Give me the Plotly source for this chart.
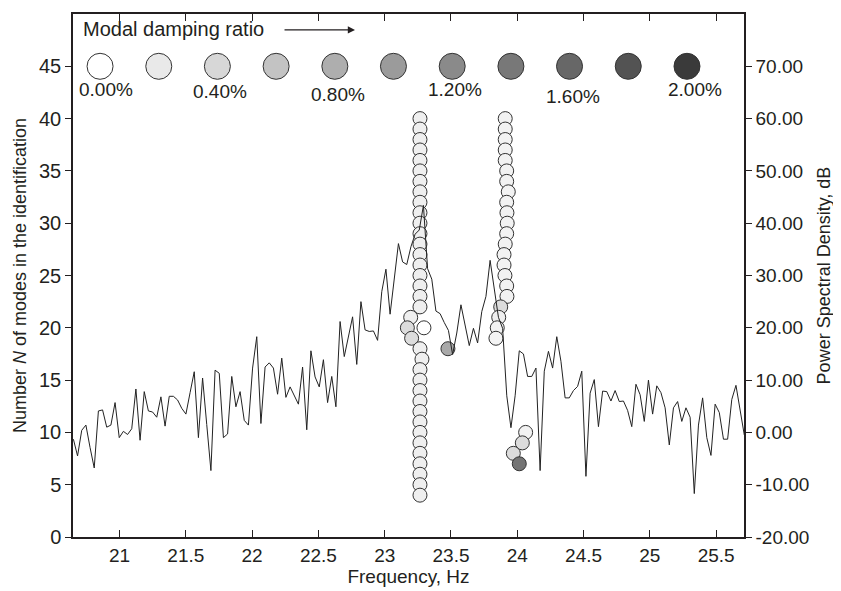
import plotly.graph_objects as go

# ---- PSD line (dB), uniform frequency grid ----
psd_f0 = 20.652
psd_df = 0.03143
psd_db = [-1.3, -4.5, 0.4, 1.4, -2.9, -6.8, 4.1, 4.3, 1.0, 1.4, 5.7, -1.0, 0.2, -0.4, 0.7, 8.3,
          -1.5, 7.8, 4.1, 3.9, 2.9, 6.8, 1.2, 6.9, 6.9, 6.2, 4.6, 3.5, 7.6, 11.6, -1.0, 10.4,
          1.5,
          -7.3, 11.9, 11.3, -1.0, -0.3, 10.7, 4.9, 7.8, 2.3, 1.4, 12.3, 18.3, 1.7, 12.5, 13.3, 12.3,
          7.3, 14.2, 6.7, 8.7, 7.0, 5.4, 12.5, 0.5, 15.6, 10.6, 8.7, 13.9, 5.7, 10.7, 4.9, 21.2,
          14.5, 18.0, 22.1, 13.0, 25.0, 19.6, 19.3, 19.4, 17.6, 26.9, 31.2, 22.6, 29.1, 36.1, 32.6,
          32.1, 35.5, 37.9, 38.7, 43.4, 31.3, 29.3, 23.2, 22.7, 21.0, 19.5, 14.9,
          19.0,
          24.4, 20.2, 16.6, 19.9, 17.1, 23.1, 26.0, 32.9, 27.0, 22.0, 19.9, 7.0, 0.9,
          7.0,
          15.6, 15.0, 10.7, 10.7, 12.3, -7.3, 11.7, 15.5, 12.3, 18.3, 13.6, 6.6, 6.6, 8.0, 8.8,
          11.7, -8.4, 7.5, 10.1, 1.1, 7.9, 7.8, 6.0, 8.0, 5.9, 6.0, 4.2, 1.1, 9.2, 7.2, 2.1, 10.0,
          3.5, 8.9, 7.6, 4.7, -2.4, 4.7, 5.9, 2.1, 4.7, 2.9, -11.7, 1.4, 6.6, -1.0, -4.4, 5.4, 3.8,
          -1.3, -1.3, 6.3, 9.0, 3.8, -0.5]
psd_freq = [psd_f0 + i * psd_df for i in range(len(psd_db))]

# ---- Stabilisation diagram: identified modes ----
col1_N = list(range(40, 21, -1)) + [21, 20, 20, 19, 18, 17] + list(range(16, 3, -1))
col1_f = [23.266] * 19 + [23.196, 23.171, 23.296, 23.203, 23.266, 23.281] + [23.266] * 13
col1_d = [0.15] * 19 + [0.15, 0.35, 0.0, 0.35, 0.15, 0.15] + [0.15] * 13

col2_N = list(range(40, 22, -1)) + [22, 21, 20, 19]
col2_f = [23.909, 23.909, 23.909, 23.909, 23.909, 23.920, 23.920, 23.932, 23.920, 23.922,
          23.924, 23.920, 23.909, 23.900, 23.900, 23.907, 23.920, 23.922,
          23.875, 23.860, 23.849, 23.839]
col2_d = [0.12] * 18 + [0.35, 0.15, 0.12, 0.1]

other_N = [18, 10, 9, 8, 7]
other_f = [23.477, 24.063, 24.038, 23.970, 24.015]
other_d = [0.85, 0.12, 0.35, 0.35, 1.45]

stab_N = col1_N + col2_N + other_N
stab_f = col1_f + col2_f + other_f
stab_d = col1_d + col2_d + other_d

# ---- Damping legend ----
legend_damp = [0.0, 0.2, 0.4, 0.6, 0.8, 1.0, 1.2, 1.4, 1.6, 1.8, 2.0]
legend_freq = [20.853, 21.296, 21.738, 22.181, 22.624, 23.066, 23.509, 23.952, 24.394, 24.837, 25.280]
legend_N = 45
legend_labels = ["0.00%", "0.40%", "0.80%", "1.20%", "1.60%", "2.00%"]
legend_label_pos = [(0.049, 0.855), (0.219, 0.851), (0.395, 0.846), (0.569, 0.855), (0.745, 0.842), (0.927, 0.855)]

x_ticks = [21, 21.5, 22, 22.5, 23, 23.5, 24, 24.5, 25, 25.5]
y_ticks = [0, 5, 10, 15, 20, 25, 30, 35, 40, 45]
y2_ticks = [-20, -10, 0, 10, 20, 30, 40, 50, 60, 70]

gray_scale = [[0.0, '#ffffff'], [0.1, '#e9e9e9'], [0.2, '#d7d7d7'], [0.3, '#c3c3c3'],
              [0.4, '#aeaeae'], [0.5, '#9b9b9b'], [0.6, '#8a8a8a'], [0.7, '#787878'],
              [0.8, '#676767'], [0.9, '#535353'], [1.0, '#3a3a3a']]

FONT = "Liberation Sans, Arial, sans-serif"
NARROW = "Liberation Sans Narrow, Arial Narrow, Liberation Sans, sans-serif"
INK = '#231f20'

fig = go.Figure()

fig.add_trace(go.Scatter(
    x=legend_freq, y=[legend_N] * len(legend_freq), mode='markers',
    marker=dict(size=26, color=legend_damp, colorscale=gray_scale, cmin=0, cmax=2,
                line=dict(color='#333333', width=1)),
    hoverinfo='skip', showlegend=False))

fig.add_trace(go.Scatter(
    x=stab_f, y=stab_N, mode='markers',
    marker=dict(size=14, color=stab_d, colorscale=gray_scale, cmin=0, cmax=2,
                line=dict(color='#333333', width=1)),
    showlegend=False))

fig.add_trace(go.Scatter(
    x=psd_freq, y=psd_db, mode='lines', yaxis='y2',
    line=dict(color='#222222', width=1), showlegend=False))

annotations = [
    dict(text="Modal damping ratio", x=0.012, y=0.971, xref='paper', yref='paper',
         xanchor='left', yanchor='middle', showarrow=False,
         font=dict(family=FONT, size=20, color=INK)),
    dict(text="", x=0.4203, y=0.9695, xref='paper', yref='paper',
         ax=-72, ay=0, showarrow=True, arrowhead=2, arrowsize=1.2, arrowwidth=1.2,
         arrowcolor=INK),
]
for lab, (px, py) in zip(legend_labels, legend_label_pos):
    annotations.append(dict(text=lab, x=px, y=py, xref='paper', yref='paper',
                            xanchor='center', yanchor='middle', showarrow=False,
                            font=dict(family=FONT, size=19, color=INK)))

# page body has an 8px margin; size and margins compensate so the plot area
# lands at x 73..744, y 12..537 in the 841x591 window
fig.update_layout(
    width=833, height=583,
    margin=dict(l=65, r=97, t=4, b=54),
    paper_bgcolor='white', plot_bgcolor='white',
    font=dict(family=FONT, color=INK),
    annotations=annotations,
    xaxis=dict(range=[20.649, 25.71], tickvals=x_ticks, ticktext=[f"{v:g}" for v in x_ticks],
               ticks='inside', ticklen=7, tickwidth=1, tickcolor=INK,
               showline=True, linecolor=INK, linewidth=1.5, mirror='ticks',
               showgrid=False, zeroline=False,
               tickfont=dict(family=NARROW, size=19, color=INK),
               title=dict(text="Frequency, Hz", font=dict(family=NARROW, size=19, color=INK), standoff=4)),
    yaxis=dict(range=[0, 50], tickvals=y_ticks, ticks='outside', ticklen=6, tickwidth=1,
               tickcolor=INK, showline=True, linecolor=INK, linewidth=1.5,
               showgrid=False, zeroline=False,
               tickfont=dict(family=FONT, size=20, color=INK),
               title=dict(text="Number <i>N</i> of modes in the identification",
                          font=dict(family=FONT, size=18, color=INK), standoff=8)),
    yaxis2=dict(range=[-20, 80], overlaying='y', side='right', tickvals=y2_ticks,
                ticktext=[f"{v:.2f}" for v in y2_ticks],
                ticks='outside', ticklen=6, tickwidth=1, tickcolor=INK,
                showline=True, linecolor=INK, linewidth=1.5,
                showgrid=False, zeroline=False,
                tickfont=dict(family=FONT, size=19, color=INK),
                title=dict(text="Power Spectral Density, dB",
                           font=dict(family=FONT, size=18, color=INK), standoff=9)),
)

fig.write_html("out.html")
